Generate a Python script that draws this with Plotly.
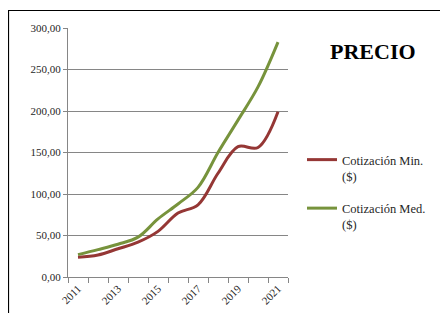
import plotly.graph_objects as go

years = ["2011", "2012", "2013", "2014", "2015", "2016", "2017", "2018", "2019", "2020", "2021"]
year_labels = ["2011", "", "2013", "", "2015", "", "2017", "", "2019", "", "2021"]
cot_min = [23.7, 26.5, 34.0, 42.0, 55.0, 77.0, 87.0, 125.0, 157.0, 156.0, 199.0]
cot_med = [27.0, 33.0, 39.5, 48.0, 70.0, 88.0, 108.0, 150.0, 189.0, 229.0, 283.0]
y_ticks = [0, 50, 100, 150, 200, 250, 300]

FONT = "Liberation Serif"
OFF = 8  # page body margin
W, H = 448 - OFF, 313 - OFF
# plot area in page pixels: x 68..288, y 28..277
L, R, T, B = 68 - OFF, W - (288 - OFF), 28 - OFF, H - (277 - OFF)

fig = go.Figure()
fig.add_trace(go.Scatter(
    x=years, y=cot_min, mode="lines", name="Cotización Min.<br>($)",
    line=dict(color="#953735", width=3, shape="spline", smoothing=1.0),
    legendgroup="a",
))
fig.add_trace(go.Scatter(
    x=years, y=cot_med, mode="lines", name="Cotización Med.<br>($)",
    line=dict(color="#77933C", width=3, shape="spline", smoothing=1.0),
    legendgroup="b",
))

pw = W - L - R
ph = H - T - B

def px_x(p):
    return (p - OFF - L) / pw

def px_y(p):
    return (H - B - (p - OFF)) / ph

fig.update_layout(
    width=W, height=H,
    margin=dict(l=L, r=R, t=T, b=B, autoexpand=False),
    paper_bgcolor="white", plot_bgcolor="white",
    separators=",.",
    font=dict(family=FONT, size=11, color="#262626"),
    showlegend=True,
    legend=dict(
        x=px_x(302), y=px_y(145), xanchor="left", yanchor="top",
        font=dict(family=FONT, size=12.5, color="#262626"),
        itemwidth=30, valign="top", tracegroupgap=13,
        bgcolor="rgba(0,0,0,0)",
    ),
    xaxis=dict(
        type="category", tickmode="array", tickvals=years, ticktext=year_labels,
        range=[-0.5, len(years) - 0.5], automargin=False,
        tickson="boundaries", ticks="outside", ticklen=5, tickcolor="#868686",
        showline=True, linecolor="#868686", linewidth=1,
        showgrid=False, tickangle=-45, zeroline=False,
        tickfont=dict(family=FONT, size=11, color="#262626"),
    ),
    yaxis=dict(
        range=[0, 300], tickmode="array", tickvals=y_ticks, tickformat=".2f",
        automargin=False,
        ticks="outside", ticklen=4, tickcolor="#868686",
        showline=True, linecolor="#868686", linewidth=1,
        showgrid=True, gridcolor="#868686", gridwidth=1, zeroline=False,
        tickfont=dict(family=FONT, size=11, color="#262626"),
    ),
    annotations=[dict(
        text="<b>PRECIO</b>", x=px_x(373), y=px_y(52), xref="paper", yref="paper",
        xanchor="center", yanchor="middle", showarrow=False,
        font=dict(family=FONT, size=22, color="black"),
    )],
    shapes=[dict(
        type="rect", xref="paper", yref="paper",
        x0=px_x(8.5), x1=px_x(470), y0=px_y(340), y1=px_y(10.5),
        line=dict(color="black", width=1.2), fillcolor="rgba(0,0,0,0)",
        layer="below",
    )],
)

fig.write_html("out.html")
